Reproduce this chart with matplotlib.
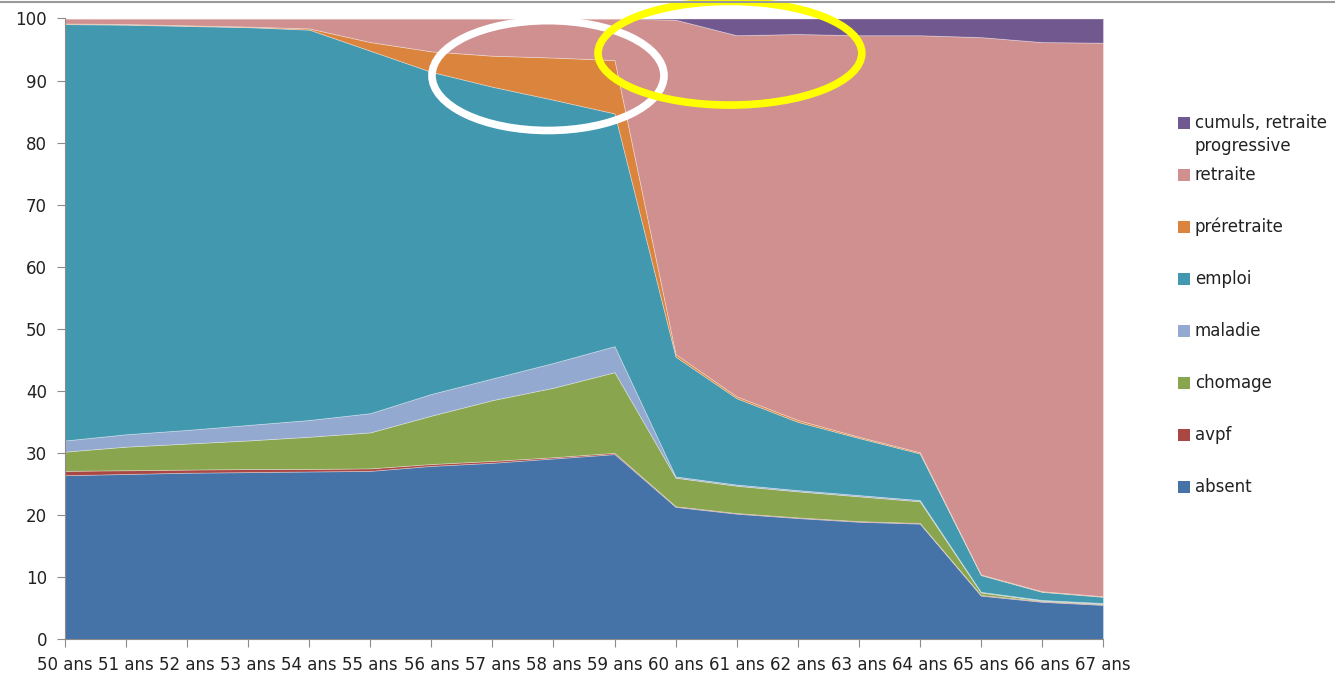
import matplotlib
matplotlib.use("Agg")
import matplotlib.pyplot as plt
from matplotlib.patches import Ellipse, Rectangle
from matplotlib.lines import Line2D

ages = [f"{a} ans" for a in range(50, 68)]

absent = [26.4, 26.6, 26.8, 26.9, 27.0, 27.1, 27.9, 28.4, 29.1, 29.8, 21.3, 20.2, 19.5, 18.9, 18.6, 7.0, 6.0, 5.5]
avpf = [0.7, 0.6, 0.5, 0.5, 0.4, 0.4, 0.3, 0.3, 0.2, 0.2, 0.1, 0.1, 0.1, 0.1, 0.1, 0.1, 0.1, 0.1]
chomage = [3.1, 3.8, 4.2, 4.6, 5.2, 5.8, 7.8, 9.8, 11.2, 13.0, 4.6, 4.4, 4.2, 4.0, 3.5, 0.4, 0.1, 0.1]
maladie = [1.8, 2.0, 2.2, 2.5, 2.7, 3.1, 3.5, 3.5, 4.0, 4.2, 0.2, 0.2, 0.2, 0.2, 0.2, 0.1, 0.1, 0.1]
emploi = [67.1, 66.0, 65.1, 64.1, 62.9, 58.4, 51.9, 47.0, 42.4, 37.5, 19.3, 13.9, 11.0, 9.2, 7.5, 2.7, 1.3, 1.0]
preretraite = [0.1, 0.1, 0.1, 0.1, 0.2, 1.4, 3.3, 5.0, 6.8, 8.6, 0.4, 0.3, 0.3, 0.2, 0.2, 0.1, 0.1, 0.1]
retraite = [0.8, 0.9, 1.1, 1.3, 1.6, 3.8, 5.3, 6.0, 6.3, 6.7, 53.9, 58.2, 62.2, 64.7, 67.2, 86.6, 88.5, 89.2]
cumuls = [0, 0, 0, 0, 0, 0, 0, 0, 0, 0, 0.2, 2.7, 2.5, 2.7, 2.7, 3.0, 3.8, 3.9]

series = [absent, avpf, chomage, maladie, emploi, preretraite, retraite, cumuls]
labels = ["absent", "avpf", "chomage", "maladie", "emploi", "préretraite",
          "retraite", "cumuls, retraite\nprogressive"]
colors = ["#4572A7", "#AA4643", "#89A54E", "#93A9CF", "#4198AF", "#DB843D",
          "#D09090", "#71588F"]

fig = plt.figure(figsize=(13.35, 6.77), dpi=100)
ax = fig.add_axes([0.0487, 0.0561, 0.7775, 0.9166])

x = list(range(len(ages)))
polys = ax.stackplot(x, *series, colors=colors)
for p in polys:
    p.set_edgecolor((1, 1, 1, 0.35))
    p.set_linewidth(0.6)

ax.set_xlim(0, len(ages) - 1)
ax.set_ylim(0, 100)
ax.set_yticks(range(0, 101, 10))
ax.set_xticks(x)
ax.set_xticklabels(ages)
for s in ["top", "right"]:
    ax.spines[s].set_visible(False)
for s in ["left", "bottom"]:
    ax.spines[s].set_color("#8c8c8c")
ax.tick_params(axis="both", colors="#8c8c8c", labelcolor="#222222",
               labelsize=12, length=6, direction="out")
ax.tick_params(axis="y", pad=7)
ax.tick_params(axis="x", pad=6)

# highlight ellipses
ax.add_patch(Ellipse((57.91 - 50, 90.8), 3.8, 17.7, fill=False,
                     edgecolor="white", linewidth=5.5, clip_on=False, zorder=5))
ax.add_patch(Ellipse((60.89 - 50, 94.4), 4.32, 16.7, fill=False,
                     edgecolor="#FFFF00", linewidth=5.5, clip_on=False, zorder=5))

# legend, top to bottom
for i, (lab, col) in enumerate(zip(labels[::-1], colors[::-1])):
    yc = 1 - (123 + 52 * i) / 677
    fig.patches.append(Rectangle((1178 / 1335, yc - 6 / 677), 12 / 1335, 12 / 677,
                                 transform=fig.transFigure, facecolor=col,
                                 edgecolor="none"))
    fig.text(1195 / 1335, yc + 9 / 677, lab, fontsize=12, color="#222222",
             va="top", ha="left", linespacing=1.35)

# top border line
fig.add_artist(Line2D([0, 1], [1 - 2 / 677, 1 - 2 / 677], transform=fig.transFigure,
                      color="#999999", linewidth=1.5))

fig.savefig("out.png", dpi=100)
